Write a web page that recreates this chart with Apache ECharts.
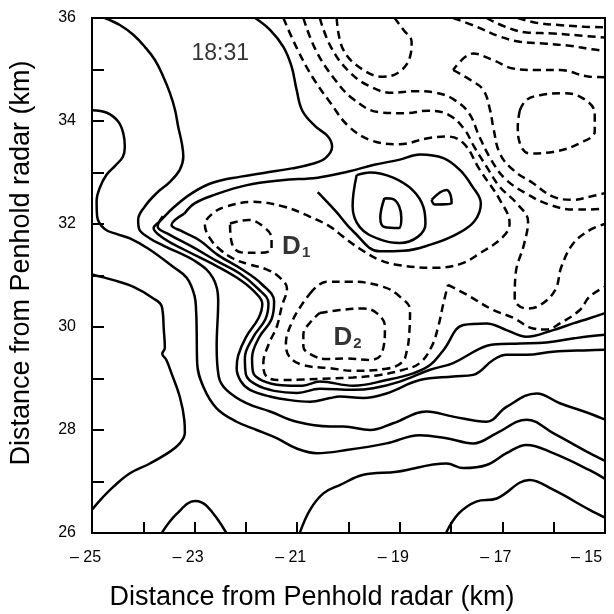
<!DOCTYPE html>
<html><head><meta charset="utf-8">
<script src="https://cdn.jsdelivr.net/npm/echarts@6/dist/echarts.min.js"></script>
<style>html,body{margin:0;padding:0;background:#fff}#c{width:614px;height:614px}</style>
</head><body><div id="c"></div>
<script>
const xTickLabels = [-25, -23, -21, -19, -17, -15];
const yTickLabels = [26, 28, 30, 32, 34, 36];

// ---- solid contours: [x km, y km] ----
const sBulge = [[-25,34.21],[-24.71,34.16],[-24.49,33.99],[-24.39,33.76],[-24.36,33.5],[-24.4,33.3],[-24.55,33.13],[-24.72,32.95],[-24.85,32.7],[-24.91,32.45],[-24.9,32.15],[-24.75,31.9],[-24.5,31.8],[-24.26,31.72],[-23.9,31.52],[-23.42,31.17],[-23.15,30.95],[-23.0,30.6],[-22.97,30.3],[-22.96,29.94],[-22.95,29.3],[-22.83,28.84],[-22.57,28.42],[-22.18,28.16],[-21.79,28.0],[-21.4,27.84],[-21.01,27.64],[-20.62,27.55],[-20.04,27.61],[-19.26,27.74],[-18.61,27.9],[-18.09,27.84],[-17.57,27.74],[-17.11,27.94],[-16.53,28.2],[-16.01,27.94],[-15.3,27.55],[-15,27.4]];
const sLeft = [[-25,31.02],[-24.8,30.97],[-24.58,30.91],[-24.19,30.78],[-23.81,30.56],[-23.64,30.40],[-23.6,29.94],[-23.58,29.59],[-23.63,29.48],[-23.55,29.36],[-23.45,29.10],[-23.29,28.65],[-23.2,28.19],[-23.19,27.94],[-23.29,27.74],[-23.48,27.58],[-23.87,27.35],[-24.26,27.16],[-24.58,26.9],[-24.84,26.64],[-25,26.45]];
const sTopLeft = [[-24.75,36],[-24.45,35.86],[-24.19,35.67],[-23.97,35.44],[-23.77,35.18],[-23.61,34.86],[-23.48,34.54],[-23.38,34.21],[-23.32,33.89],[-23.25,33.57],[-23.22,33.31],[-23.29,33.05],[-23.48,32.82],[-23.74,32.6],[-23.97,32.34],[-24.1,32.08],[-24.08,31.9],[-23.87,31.72],[-23.61,31.58],[-22.96,31.26],[-22.64,30.95],[-22.54,30.52],[-22.57,29.62],[-22.53,29.04],[-22.38,28.78],[-21.99,28.52],[-21.53,28.36],[-21.01,28.16],[-20.36,28.07],[-20.1,28.07],[-19.58,28.0],[-19.13,28.13],[-18.48,28.36],[-17.96,28.26],[-17.31,28.16],[-16.92,28.45],[-16.33,28.71],[-15.88,28.52],[-15.3,28.32],[-15,28.2]];
const sOuterD1 = [[-21.82,36],[-21.53,35.77],[-21.27,35.44],[-21.11,35.06],[-21.01,34.6],[-20.9,34.2],[-20.65,33.9],[-20.4,33.7],[-20.32,33.5],[-20.45,33.28],[-20.7,33.17],[-21.1,33.08],[-21.6,33.0],[-22.1,32.92],[-22.65,32.8],[-23.05,32.6],[-23.4,32.33],[-23.68,32.05],[-23.8,31.92],[-23.6,31.72],[-23.2,31.5],[-22.64,31.22],[-22.18,30.96],[-21.85,30.7],[-21.68,30.45],[-21.75,30.18],[-22.0,29.8],[-22.15,29.45],[-22.18,29.2],[-22.1,28.95],[-21.92,28.78],[-21.53,28.65],[-21.14,28.58],[-20.75,28.55],[-20.36,28.62],[-20.17,28.65],[-19.71,28.62],[-19.26,28.71],[-18.61,28.97],[-17.96,29.04],[-17.57,29.07],[-17.18,29.36],[-16.92,29.46],[-16.53,29.46],[-16.01,29.52],[-15.3,29.55],[-15,29.56]];
const sHook2 = [[-23.62,32.15],[-23.72,31.95],[-23.5,31.8],[-23.05,31.56],[-22.6,31.3],[-22.12,31.04],[-21.78,30.76],[-21.56,30.46],[-21.62,30.15],[-21.86,29.8],[-22.02,29.4],[-22.0,29.08],[-21.8,28.88],[-21.45,28.76],[-21.0,28.72],[-20.56,28.8],[-19.91,28.78],[-19.52,28.81],[-19.0,28.94],[-18.41,29.17],[-17.96,29.3],[-17.44,29.58],[-17.18,29.66],[-16.66,29.68],[-16.14,29.7],[-15.6,29.78],[-15.3,29.82],[-15,29.85]];
const sHook3 = [[-23.2,32.2],[-23.45,31.98],[-23.25,31.86],[-22.9,31.68],[-22.55,31.4],[-22.08,31.12],[-21.7,30.84],[-21.45,30.5],[-21.5,30.15],[-21.74,29.8],[-21.88,29.4],[-21.86,29.12],[-21.68,28.96],[-21.3,28.87],[-20.9,28.86],[-20.56,28.94],[-19.91,28.86],[-19.26,28.97],[-18.74,29.1],[-18.41,29.26],[-18.15,29.55],[-17.76,30.04],[-17.31,30.07],[-16.92,29.94],[-16.53,29.81],[-16.01,29.94],[-15.62,30.07],[-15.3,30.17],[-15,30.27]];
const sMaxLoop = [[-20.6,32.62],[-20.25,32.25],[-19.91,31.86],[-19.39,31.47],[-18.93,31.48],[-18.4,31.6],[-17.9,31.8],[-17.55,32.05],[-17.42,32.4],[-17.6,32.75],[-17.83,33.05],[-18.15,33.28],[-18.61,33.35],[-19.0,33.25],[-19.5,33.15],[-20.0,33.02],[-20.6,32.9],[-21.3,32.85],[-22.0,32.75],[-22.6,32.57],[-23.0,32.4],[-23.2,32.2]];
const sOval = [[-19.84,32.95],[-19.58,33.0],[-19.13,32.9],[-18.74,32.65],[-18.54,32.33],[-18.5,32.0],[-18.65,31.75],[-19.0,31.63],[-19.39,31.7],[-19.78,31.94],[-19.92,32.35],[-19.84,32.95]];
const sInner = [[-19.3,32.5],[-19.12,32.48],[-18.97,32.12],[-19.02,31.92],[-19.3,31.94],[-19.38,32.12],[-19.3,32.5]];
const sTri = [[-18.38,32.47],[-18.09,32.66],[-18.01,32.56],[-17.99,32.4],[-18.32,32.38],[-18.38,32.47]];
const sHump = [[-23.64,26],[-23.35,26.37],[-22.99,26.62],[-22.76,26.52],[-22.38,26.0]];
const sLow = [[-20.95,26.0],[-20.75,26.45],[-20.49,26.77],[-20.17,26.93],[-19.71,27.13],[-19.06,27.19],[-18.09,27.35],[-17.76,27.26],[-17.31,27.32],[-16.92,27.55],[-16.53,27.71],[-16.01,27.55],[-15.3,27.22],[-15,27.05]];
const sBottom = [[-18.1,26.0],[-17.85,26.38],[-17.51,26.61],[-17.11,26.67],[-16.47,27.03],[-16.01,26.84],[-15.3,26.45],[-15,26.3]];

// ---- dashed contours ----
const dOuterA = [[-21.27,36],[-21.0,35.4],[-20.7,34.85],[-20.35,34.35],[-20.0,33.9],[-19.55,33.62],[-19.0,33.55],[-18.48,33.66],[-18.09,33.7],[-17.76,33.57],[-17.44,33.05],[-17.05,32.47],[-16.86,32.01],[-16.99,31.75],[-17.44,31.43],[-17.83,31.22],[-18.35,31.15],[-19.0,31.2],[-19.39,31.3],[-19.78,31.52],[-20.1,31.75],[-20.36,31.95],[-20.75,32.14],[-21.27,32.34],[-21.86,32.43],[-22.38,32.34],[-22.64,32.21],[-22.8,31.98],[-22.7,31.72],[-22.5,31.5],[-22.25,31.33],[-21.95,31.22],[-21.6,31.12],[-21.35,30.97],[-21.2,30.75],[-21.3,30.4],[-21.4,30.0],[-21.55,29.68],[-21.66,29.3],[-21.6,29.04],[-21.3,28.97],[-20.88,28.98],[-20.36,29.0],[-19.91,29.02],[-19.39,29.07],[-18.93,29.17],[-18.61,29.3],[-18.38,29.62],[-18.25,30.01],[-18.15,30.46],[-18.06,30.82]];
const dOuterB = [[-18.06,30.82],[-17.63,30.59],[-17.18,30.33],[-16.79,30.18],[-16.4,29.97],[-16.14,29.95],[-15.88,30.07],[-15.49,30.33],[-15.3,30.59],[-15,30.78]];
const dD1Small = [[-22.31,32.01],[-21.95,32.08],[-21.66,31.95],[-21.5,31.72],[-21.5,31.52],[-21.72,31.44],[-22.1,31.45],[-22.28,31.65],[-22.31,32.01]];
const dD2Outer = [[-20.75,30.65],[-20.43,30.88],[-19.97,30.88],[-19.32,30.78],[-19.0,30.59],[-18.8,30.33],[-18.82,29.81],[-18.86,29.55],[-18.95,29.32],[-19.26,29.19],[-19.91,29.15],[-20.36,29.2],[-20.88,29.26],[-21.15,29.42],[-21.22,29.68],[-21.1,30.1],[-20.92,30.42],[-20.75,30.65]];
const dD2Inner = [[-20.56,30.27],[-20.17,30.33],[-19.71,30.36],[-19.45,30.27],[-19.29,30.01],[-19.35,29.49],[-19.58,29.36],[-20.04,29.39],[-20.43,29.38],[-20.7,29.45],[-20.88,29.62],[-20.88,29.85],[-20.72,30.12],[-20.56,30.27]];
const dTopU = [[-20.23,36],[-20.1,35.38],[-19.71,34.99],[-19.32,34.86],[-19.0,34.96],[-18.8,35.25],[-18.77,35.54],[-18.93,35.77],[-19.1,36]];
const dDiag1 = [[-20.88,36],[-20.65,35.4],[-20.3,34.85],[-19.9,34.42],[-19.4,34.17],[-18.9,34.15],[-18.45,34.2],[-18.05,34.12],[-17.75,33.85],[-17.55,33.5],[-17.3,33.1],[-17.05,32.72],[-16.72,32.4],[-16.5,32.05],[-16.58,31.6],[-16.74,31.05],[-16.76,30.55],[-16.53,30.36],[-16.27,30.42],[-15.97,30.72],[-15.85,31.17],[-15.62,31.62],[-15.3,31.88],[-15,32.0]];
const dDiag2 = [[-20.56,36],[-20.35,35.45],[-20.0,34.97],[-19.6,34.68],[-19.15,34.55],[-18.7,34.58],[-18.3,34.55],[-17.95,34.42],[-17.65,34.15],[-17.45,33.7],[-17.22,33.25],[-16.95,32.88],[-16.55,32.6],[-16.1,32.38],[-15.6,32.28],[-15.3,32.28],[-15,32.3]];
const dCornerA = [[-15,34.85],[-15.3,34.86],[-15.88,34.99],[-16.33,34.99],[-16.79,35.02],[-17.18,35.18],[-17.57,35.31],[-17.96,34.99]];
const dCornerB = [[-17.96,34.99],[-17.63,34.8],[-17.37,34.6],[-17.24,34.21],[-17.18,33.89],[-17.05,33.37],[-16.79,33.05],[-16.4,32.79],[-16.01,32.53],[-15.62,32.47],[-15.3,32.53],[-15,32.6]];
const dRightOval = [[-16.66,34.21],[-16.53,34.41],[-16.27,34.5],[-15.82,34.54],[-15.43,34.44],[-15.2,34.15],[-15.2,33.8],[-15.49,33.57],[-16.01,33.4],[-16.47,33.37],[-16.66,33.57],[-16.7,33.9],[-16.66,34.21]];
const dTop1 = [[-17.96,36],[-17.5,35.83],[-17.05,35.64],[-16.66,35.54],[-16.14,35.5],[-15.69,35.46],[-15.3,35.4],[-15,35.36]];
const dTop2 = [[-17.31,36],[-16.92,35.82],[-16.53,35.72],[-16.01,35.7],[-15.5,35.66],[-15,35.62]];
const dTop3 = [[-16.7,36],[-16.3,35.9],[-15.85,35.86],[-15.4,35.83],[-15,35.82]];

const solidContours = [sBulge, sLeft, sTopLeft, sOuterD1, sHook2, sHook3, sMaxLoop, sOval, sInner, sTri, sHump, sLow, sBottom];
const dashedContours = [dOuterA, dOuterB, dD1Small, dD2Outer, dD2Inner, dTopU, dDiag1, dDiag2, dCornerA, dCornerB, dRightOval, dTop1, dTop2, dTop3];

const FONT = 'Liberation Sans, Arial, Helvetica, sans-serif';
const chart = echarts.init(document.getElementById('c'), null, {renderer: 'canvas'});
const series = [];
solidContours.forEach(d => series.push({type:'line', data:d, smooth:0.4, showSymbol:false, silent:true, clip:true, lineStyle:{color:'#000', width:2.5, type:'solid'}}));
dashedContours.forEach(d => series.push({type:'line', data:d, smooth:0.4, showSymbol:false, silent:true, clip:true, lineStyle:{color:'#000', width:2.5, type:[8,5]}}));
series.push({type:'scatter', symbolSize:0, silent:true, data:[[-22.5,35.3]], label:{show:true, position:'inside', formatter:'18:31', color:'#000', fontSize:23, fontFamily:FONT}});
series.push({type:'scatter', symbolSize:0, silent:true, data:[[-21.02,31.55]], label:{show:true, position:'inside', formatter:'{d|D}{s|1}', rich:{d:{fontSize:26, fontWeight:'bold', fontFamily:FONT, color:'#000'}, s:{fontSize:15, fontWeight:'bold', fontFamily:FONT, color:'#000', padding:[12,0,0,1]}}}});
series.push({type:'scatter', symbolSize:0, silent:true, data:[[-20.02,29.79]], label:{show:true, position:'inside', formatter:'{d|D}{s|2}', rich:{d:{fontSize:26, fontWeight:'bold', fontFamily:FONT, color:'#000'}, s:{fontSize:15, fontWeight:'bold', fontFamily:FONT, color:'#000', padding:[12,0,0,1]}}}});

chart.setOption({
  animation:false,
  backgroundColor:'#fff',
  grid:{left:92, top:18, width:513, height:515, show:true, borderColor:'#000', borderWidth:2, backgroundColor:'transparent'},
  xAxis:{type:'value', min:-25, max:-15, interval:1,
    axisLine:{show:true, onZero:false, lineStyle:{color:'#000', width:2}},
    axisTick:{show:true, inside:true, length:11, lineStyle:{color:'#000', width:2}},
    splitLine:{show:false},
    axisLabel:{color:'#000', fontSize:16, fontFamily:FONT, margin:17,
      formatter:v => xTickLabels.includes(v) ? (v === -15 ? '{e|\u2013 ' + Math.abs(v) + '}' : '{n|\u2013 ' + Math.abs(v) + '}') : '',
      rich:{n:{fontSize:16, fontFamily:FONT, color:'#000', padding:[0,13,0,0]}, e:{fontSize:16, fontFamily:FONT, color:'#000', padding:[0,37,0,0]}}}},
  yAxis:{type:'value', min:26, max:36, interval:1,
    axisLine:{show:true, onZero:false, lineStyle:{color:'#000', width:2}},
    axisTick:{show:true, inside:true, length:12, lineStyle:{color:'#000', width:2}},
    splitLine:{show:false},
    axisLabel:{color:'#000', fontSize:16, fontFamily:FONT, margin:16,
      formatter:v => yTickLabels.includes(v) ? String(v) : ''}},
  graphic:[
    {type:'text', x:312, y:598, style:{text:'Distance from Penhold radar (km)', font:'27px ' + FONT, fill:'#000', textAlign:'center', textVerticalAlign:'middle'}},
    {type:'text', x:22, y:263, rotation:Math.PI/2, style:{text:'Distance from Penhold radar (km)', font:'27px ' + FONT, fill:'#000', textAlign:'center', textVerticalAlign:'middle'}}
  ],
  series:series
});
</script></body></html>
